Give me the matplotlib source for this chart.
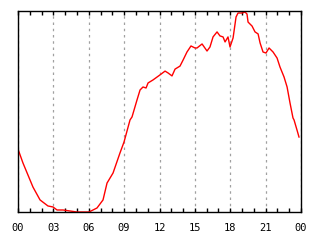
import matplotlib
matplotlib.use("Agg")
import matplotlib.pyplot as plt
from matplotlib.ticker import MultipleLocator

hours = [0.0, 0.42, 1.27, 1.87, 2.54, 2.97, 3.31, 3.82, 5.0, 5.85, 6.02, 6.7,
         7.21, 7.55, 8.06, 8.65, 8.99, 9.5, 9.67, 10.09, 10.35, 10.6, 10.86,
         11.03, 11.45, 12.04, 12.47, 12.72, 13.06, 13.32, 13.74, 14.0, 14.33,
         14.67, 15.01, 15.18, 15.61, 16.03, 16.28, 16.54, 16.88, 17.13, 17.39,
         17.56, 17.81, 17.98, 18.24, 18.49, 18.66, 19.0, 19.25, 19.42, 19.51,
         19.85, 20.1, 20.36, 20.53, 20.78, 21.03, 21.29, 21.63, 21.97, 22.22,
         22.56, 22.82, 23.07, 23.32, 23.41, 23.66, 23.83]
values = [31.3, 24.4, 12.4, 6.0, 3.0, 2.5, 1.0, 1.0, 0.0, 0.0, 0.0, 2.0,
          6.0, 14.4, 19.4, 29.4, 34.8, 45.8, 47.3, 55.7, 60.7, 62.2, 61.7,
          64.2, 65.7, 68.2, 70.1, 69.2, 67.7, 71.1, 72.6, 75.6, 79.6,
          82.6, 81.6, 81.6, 83.6, 80.1, 82.1, 87.1, 89.6, 87.6, 87.1,
          84.6, 87.1, 82.1, 86.6, 97.0, 99.0, 99.0, 99.5, 98.5, 94.5,
          92.5, 89.6, 88.6, 84.1, 79.6, 79.1, 81.6, 79.6, 76.6, 72.1,
          67.2, 62.2, 54.2, 46.8, 45.8, 40.8, 37.3]
tick_pos = [0, 3, 6, 9, 12, 15, 18, 21, 24]
tick_labels = ["00", "03", "06", "09", "12", "15", "18", "21", "00"]

fig = plt.figure(figsize=(3.2, 2.4), dpi=100)
ax = fig.add_axes([18 / 320, 28 / 240, 283 / 320, 201 / 240])

ax.plot(hours, values, color="red", linewidth=1.0)

ax.set_xlim(0, 24)
ax.set_ylim(0, 100)
ax.set_xticks(tick_pos)
ax.set_xticklabels(tick_labels, fontfamily="DejaVu Sans Mono", fontsize=7.5)
ax.xaxis.set_minor_locator(MultipleLocator(1))
ax.tick_params(axis="x", which="both", direction="in", top=True, bottom=True,
               length=3, width=1, pad=8)
ax.set_yticks([])
ax.grid(axis="x", color="#a0a0a0", linestyle=(0, (2, 3)), linewidth=0.9)
for s in ax.spines.values():
    s.set_linewidth(1.0)

fig.savefig("out.png", dpi=100)
